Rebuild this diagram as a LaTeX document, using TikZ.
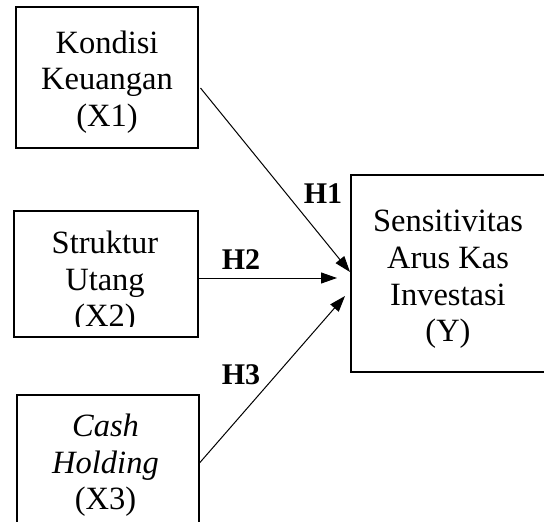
\documentclass[tikz,border=0pt]{standalone}
\usepackage{fontspec}
\setmainfont{Liberation Serif}
\usetikzlibrary{arrows.meta}

\tikzset{
  varbox/.style={draw, line width=2.2pt, rectangle, inner sep=0pt, outer sep=0pt},
  txt/.style={anchor=base, inner sep=0pt, font=\fontsize{32.5}{36.7}\selectfont},
  hyp/.style={anchor=base, inner sep=0pt, font=\fontsize{30}{36}\selectfont\bfseries},
  link/.style={line width=1pt, -{Triangle[length=16pt,width=11pt]}}
}

\begin{document}
\begin{tikzpicture}[x=1pt, y=-1pt]
\useasboundingbox (0,0) rectangle (544,522);
\clip (0,0) rectangle (544,522);

% variable boxes
\node[varbox, minimum width=182pt, minimum height=141pt] (x1) at (107,77.5) {};
\node[varbox, minimum width=184pt, minimum height=126pt] (x2) at (106,274) {};
\node[varbox, minimum width=182pt, minimum height=145pt] (x3) at (108,467.5) {};
\node[varbox, minimum width=195pt, minimum height=197pt] (y) at (448.5,273.5) {};

% box texts
\node[txt] (x1a) at (107,53) {Kondisi};
\node[txt] (x1b) at (107,89.7) {Keuangan};
\node[txt] (x1c) at (107,126.4) {(X1)};

\node[txt] (x2a) at (105,253.3) {Struktur};
\node[txt] (x2b) at (105,290) {Utang};
\begin{scope}
  \clip (0,0) rectangle (544,326);
  \node[txt] (x2c) at (105,326.7) {(X2)};
\end{scope}

\node[txt] (x3a) at (105.5,436) {\itshape Cash};
\node[txt] (x3b) at (105.5,473) {\itshape Holding};
\node[txt] (x3c) at (105.5,509.5) {(X3)};

\node[txt] (ya) at (448,231.7) {Sensitivitas};
\node[txt] (yb) at (448,268.3) {Arus Kas};
\node[txt] (yc) at (448,305) {Investasi};
\node[txt] (yd) at (448,341.7) {(Y)};

% connector end points
\coordinate (s1) at (200.5,88);
\coordinate (e1) at (350,272);
\coordinate (s2) at (199,278);
\coordinate (e2) at (337,278);
\coordinate (s3) at (199.5,463);
\coordinate (e3) at (345,296);

\draw[link] (s1) -- (e1);
\draw[link] (s2) -- (e2);
\draw[link] (s3) -- (e3);

% hypothesis labels
\node[hyp] (h1) at (323,203) {H1};
\node[hyp] (h2) at (241,269.3) {H2};
\node[hyp] (h3) at (241,384) {H3};
\end{tikzpicture}
\end{document}
